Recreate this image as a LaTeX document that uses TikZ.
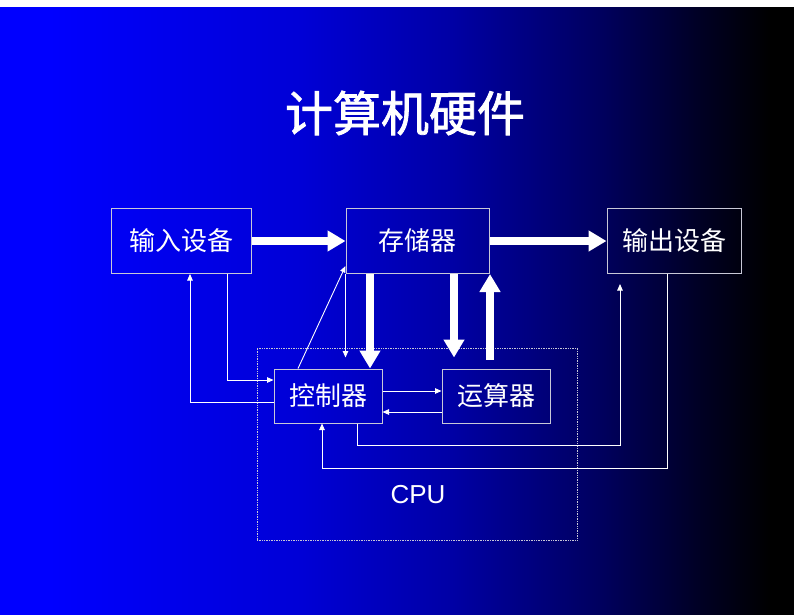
\documentclass[tikz,border=0pt]{standalone}
\usepackage{fontspec}
\setmainfont{Liberation Sans}
\newfontfamily\cjk{Noto Sans CJK SC}
\newfontfamily\cjktitle[FakeBold=1.6]{Noto Sans CJK SC}
\usetikzlibrary{positioning,arrows.meta}
\definecolor{boxline}{RGB}{200,200,215}
\pgfdeclarehorizontalshading{slidebg}{100bp}{rgb(0bp)=(0,0,1); rgb(28.1bp)=(0,0,1); rgb(43.9bp)=(0,0,0.84); rgb(53.3bp)=(0,0,0.65); rgb(62.8bp)=(0,0,0.37); rgb(69.1bp)=(0,0,0.14); rgb(73.5bp)=(0,0,0); rgb(100bp)=(0,0,0)}

\begin{document}
\begin{tikzpicture}[
	x=1pt, y=-1pt,
	devicenode/.style={rectangle, draw=boxline, line width=1pt, inner sep=0pt, minimum height=65pt, text=white, font=\cjk\fontsize{26}{26}\selectfont},
	corenode/.style={rectangle, draw=boxline, line width=1pt, inner sep=0pt, minimum width=108pt, minimum height=54pt, text=white, font=\cjk\fontsize{26}{26}\selectfont},
	cpubox/.style={rectangle, draw=boxline, densely dotted, line width=0.7pt, minimum width=320pt, minimum height=192pt},
	bigarrow/.style={-{Triangle[length=18pt,width=20pt]}, white, line width=8pt},
	smallarrow/.style={-{Triangle[length=6.5pt,width=5.5pt]}, white, line width=0.9pt},
	]
	\useasboundingbox (0,0) rectangle (794,614);
	\shade[shading=slidebg] (0,7) rectangle (794,614);
	%Nodes
	\node[text=white, font=\cjktitle\fontsize{48}{48}\selectfont] (title) at (405,113) {计算机硬件};
	\node[cpubox]                        (cpu)  at (417,444) {};
	\node[text=white, font=\fontsize{26}{26}\selectfont] (cpulabel) at (418,495) {CPU};
	\node[devicenode, minimum width=140pt] (in)   at (181,241)      {输入设备};
	\node[devicenode, minimum width=143pt] (mem)  [right=94pt of in]  {存储器};
	\node[devicenode, minimum width=134pt] (out)  [right=117pt of mem] {输出设备};
	\node[corenode]                      (ctrl) at (328,396)      {控制器};
	\node[corenode]                      (alu)  [right=59pt of ctrl] {运算器};
	
	%Lines
	\draw[bigarrow] (in) -- (mem);
	\draw[bigarrow] (mem) -- (out);
	\draw[bigarrow] ([xshift=42pt]ctrl.north |- mem.south) -- ([xshift=42pt]ctrl.north);
	\draw[bigarrow, shorten >=11pt] ([xshift=-42pt]alu.north |- mem.south) -- ([xshift=-42pt]alu.north);
	\draw[bigarrow, shorten <=9pt] ([xshift=-6pt]alu.north) -- ([xshift=-6pt]alu.north |- mem.south);
	\draw[smallarrow] ([xshift=46pt]in.south) |- ([yshift=16pt]ctrl.west);
	\draw[smallarrow] ([yshift=-6pt]ctrl.west) -| ([xshift=9pt]in.south);
	\draw[smallarrow] ([xshift=-30pt]ctrl.north) -- ([yshift=8pt]mem.south west);
	\draw[smallarrow, shorten >=11pt] (mem.south west) -- (mem.south west |- ctrl.north);
	\draw[smallarrow] ([yshift=5pt]ctrl.east) -- ([yshift=5pt]alu.west);
	\draw[smallarrow] ([yshift=-16pt]alu.west) -- ([yshift=-16pt]ctrl.east);
	\draw[smallarrow] ([xshift=29pt]ctrl.south) -- ++(0,22) -| ([xshift=-54pt,yshift=-10pt]out.south);
	\draw[smallarrow] ([xshift=-7pt]out.south) -- ++(0,194) -| ([xshift=-6pt]ctrl.south);
\end{tikzpicture}
\end{document}
